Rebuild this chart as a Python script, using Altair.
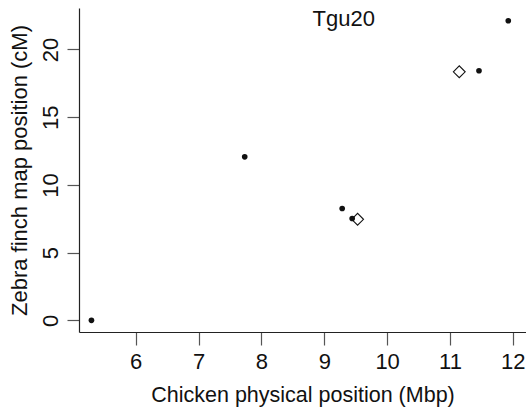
import altair as alt
import pandas as pd

# filled dots
dot_x = [5.295, 7.734, 9.285, 9.444, 11.462, 11.928]
dot_y = [0.0, 12.07, 8.26, 7.52, 18.43, 22.12]
# open diamonds
dia_x = [9.53, 11.148]
dia_y = [7.46, 18.35]
# panel label
label_text = ["Tgu20"]
label_x = [9.31]
label_y = [22.25]

x_ticks = [6, 7, 8, 9, 10, 11, 12]
y_ticks = [0, 5, 10, 15, 20]

dots = pd.DataFrame({"x": dot_x, "y": dot_y})
dias = pd.DataFrame({"x": dia_x, "y": dia_y})
lab = pd.DataFrame({"x": label_x, "y": label_y, "t": label_text})

FONT = "Liberation Sans"
FS = 22

xs = alt.Scale(domain=[5.097, 12.21], nice=False, zero=False)
ys = alt.Scale(domain=[-0.86, 23.06], nice=False, zero=False)

xaxis = alt.Axis(values=x_ticks, title="Chicken physical position (Mbp)", grid=False,
                 tickSize=13, labelPadding=6, titlePadding=12, titleFontSize=21.5,
                 format="d")
yaxis = alt.Axis(values=y_ticks, title="Zebra finch map position (cM)", grid=False,
                 tickSize=12, labelAngle=-90, labelAlign="center", labelBaseline="bottom",
                 labelPadding=5, titlePadding=8, format="d")

base_dots = alt.Chart(dots).mark_point(shape="circle", filled=True, color="#111111",
                                      size=32, opacity=1).encode(
    x=alt.X("x:Q", scale=xs, axis=xaxis),
    y=alt.Y("y:Q", scale=ys, axis=yaxis),
)

base_dias = alt.Chart(dias).mark_point(shape="diamond", filled=False, color="#111111",
                                      strokeWidth=1.1, size=140, opacity=1).encode(
    x=alt.X("x:Q", scale=xs),
    y=alt.Y("y:Q", scale=ys),
)

text = alt.Chart(lab).mark_text(font=FONT, fontSize=FS, color="#111111",
                                align="center", baseline="middle").encode(
    x=alt.X("x:Q", scale=xs),
    y=alt.Y("y:Q", scale=ys),
    text="t:N",
)

chart = alt.layer(base_dots, base_dias, text).properties(
    width=447, height=324,
    autosize=alt.AutoSizeParams(type="none"),
    padding={"left": 79, "top": 8, "right": 0, "bottom": 78},
).configure_view(stroke=None).configure_axis(
    labelFont=FONT, titleFont=FONT, labelFontSize=FS, titleFontSize=FS,
    labelColor="#111111", titleColor="#111111", titleFontWeight="normal",
    domainColor="#222222", domainWidth=1.2, tickColor="#555555", tickWidth=1.2,
)

chart.save("out.html", embed_options={"renderer": "svg", "actions": False})
